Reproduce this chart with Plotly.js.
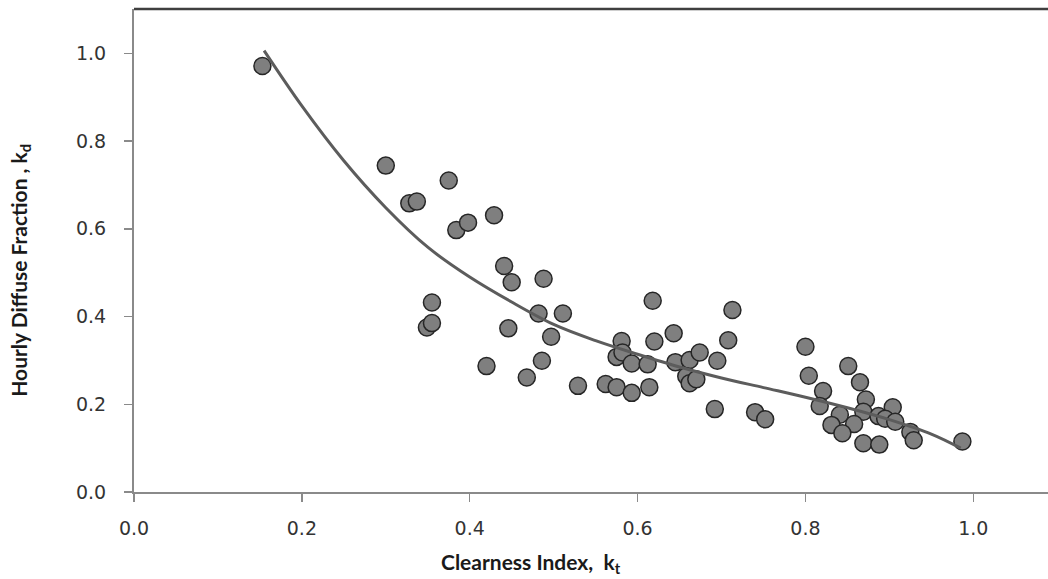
<!DOCTYPE html>
<html>
<head>
<meta charset="utf-8">
<script src="https://cdn.plot.ly/plotly-3.0.1.min.js"></script>
<style>html,body{margin:0;padding:0;background:#fff;}#chart{width:1048px;height:579px;}</style>
</head>
<body>
<div id="chart"></div>
<script>
// Observed data: clearness index kt vs hourly diffuse fraction kd
const ktObs = [0.153,0.300,0.328,0.337,0.375,0.384,0.398,0.429,0.441,0.450,0.488,0.355,0.349,0.355,0.446,0.482,0.511,0.497,0.420,0.486,0.468,0.529,
  0.618,0.713,0.643,0.708,0.581,0.620,0.575,0.582,0.593,0.612,0.645,0.662,0.674,0.695,0.658,0.662,0.670,0.562,0.575,0.593,0.614,0.692,0.740,0.752,
  0.800,0.851,0.804,0.865,0.821,0.872,0.817,0.904,0.869,0.841,0.887,0.895,0.907,0.831,0.858,0.925,0.929,0.844,0.869,0.888,0.987];
const kdObs = [0.971,0.744,0.658,0.662,0.710,0.597,0.614,0.631,0.515,0.478,0.486,0.432,0.375,0.385,0.373,0.407,0.407,0.354,0.287,0.299,0.261,0.242,
  0.436,0.415,0.362,0.346,0.344,0.343,0.308,0.318,0.293,0.291,0.296,0.301,0.318,0.299,0.264,0.248,0.257,0.246,0.239,0.226,0.239,0.189,0.182,0.166,
  0.331,0.287,0.265,0.250,0.230,0.211,0.196,0.193,0.183,0.176,0.173,0.167,0.160,0.153,0.155,0.137,0.118,0.134,0.111,0.108,0.115];

// Fitted correlation curve
const ktFit = [0.155,0.20,0.25,0.30,0.35,0.40,0.45,0.50,0.55,0.60,0.65,0.70,0.75,0.80,0.85,0.90,0.95,0.985];
const kdFit = [1.006,0.880,0.755,0.648,0.558,0.490,0.433,0.382,0.345,0.314,0.285,0.260,0.238,0.216,0.192,0.165,0.132,0.100];

const xTicks = [0, 0.2, 0.4, 0.6, 0.8, 1.0];
const yTicks = [0, 0.2, 0.4, 0.6, 0.8, 1.0];

const traces = [
  {
    x: ktObs, y: kdObs, type: 'scatter', mode: 'markers',
    marker: {size: 17, color: '#7f7f7f', line: {color: '#262626', width: 1.5}},
    hoverinfo: 'x+y', showlegend: false
  },
  {
    x: ktFit, y: kdFit, type: 'scatter', mode: 'lines',
    line: {color: '#5c5c5c', width: 3, shape: 'spline', smoothing: 1},
    showlegend: false
  }
];

const tickFont = {family: 'DejaVu Sans, Verdana, sans-serif', size: 19, color: '#333333'};
const titleFont = {family: 'Lato, Open Sans, sans-serif', size: 21, color: '#1a1a1a', weight: 'bold'};

const layout = {
  width: 1048, height: 579,
  margin: {l: 134, r: 0, t: 9, b: 87},
  paper_bgcolor: '#ffffff', plot_bgcolor: '#ffffff',
  xaxis: {
    range: [0, 1.089], tickvals: xTicks, ticktext: xTicks.map(v => v.toFixed(1)),
    showgrid: false, zeroline: false, showline: true, linecolor: '#8a8a8a', linewidth: 2,
    ticks: 'outside', ticklen: 8, tickwidth: 1.5, tickcolor: '#8a8a8a',
    tickfont: tickFont, ticklabelstandoff: 10, fixedrange: true
  },
  yaxis: {
    range: [0, 1.101], tickvals: yTicks, ticktext: yTicks.map(v => v.toFixed(1)),
    showgrid: false, zeroline: false, showline: true, linecolor: '#8a8a8a', linewidth: 2,
    ticks: 'outside', ticklen: 8, tickwidth: 1.5, tickcolor: '#8a8a8a',
    tickfont: tickFont, ticklabelstandoff: 14, fixedrange: true
  },
  shapes: [
    {type: 'line', xref: 'paper', yref: 'paper', x0: 0, x1: 1, y0: 1, y1: 1,
     line: {color: '#3f3f3f', width: 2.5}}
  ],
  annotations: [
    {text: 'Clearness Index,  k<sub>t</sub>', xref: 'paper', yref: 'paper',
     x: (531 - 134) / 914, y: -0.146, xanchor: 'center', yanchor: 'middle', showarrow: false,
     font: titleFont},
    {text: 'Hourly Diffuse Fraction , k<sub>d</sub>', xref: 'paper', yref: 'paper',
     x: -0.125, y: (492 - 270) / 483, xanchor: 'center', yanchor: 'middle', textangle: -90, showarrow: false,
     font: titleFont}
  ]
};

Plotly.newPlot('chart', traces, layout, {displayModeBar: false, staticPlot: true});
</script>
</body>
</html>
